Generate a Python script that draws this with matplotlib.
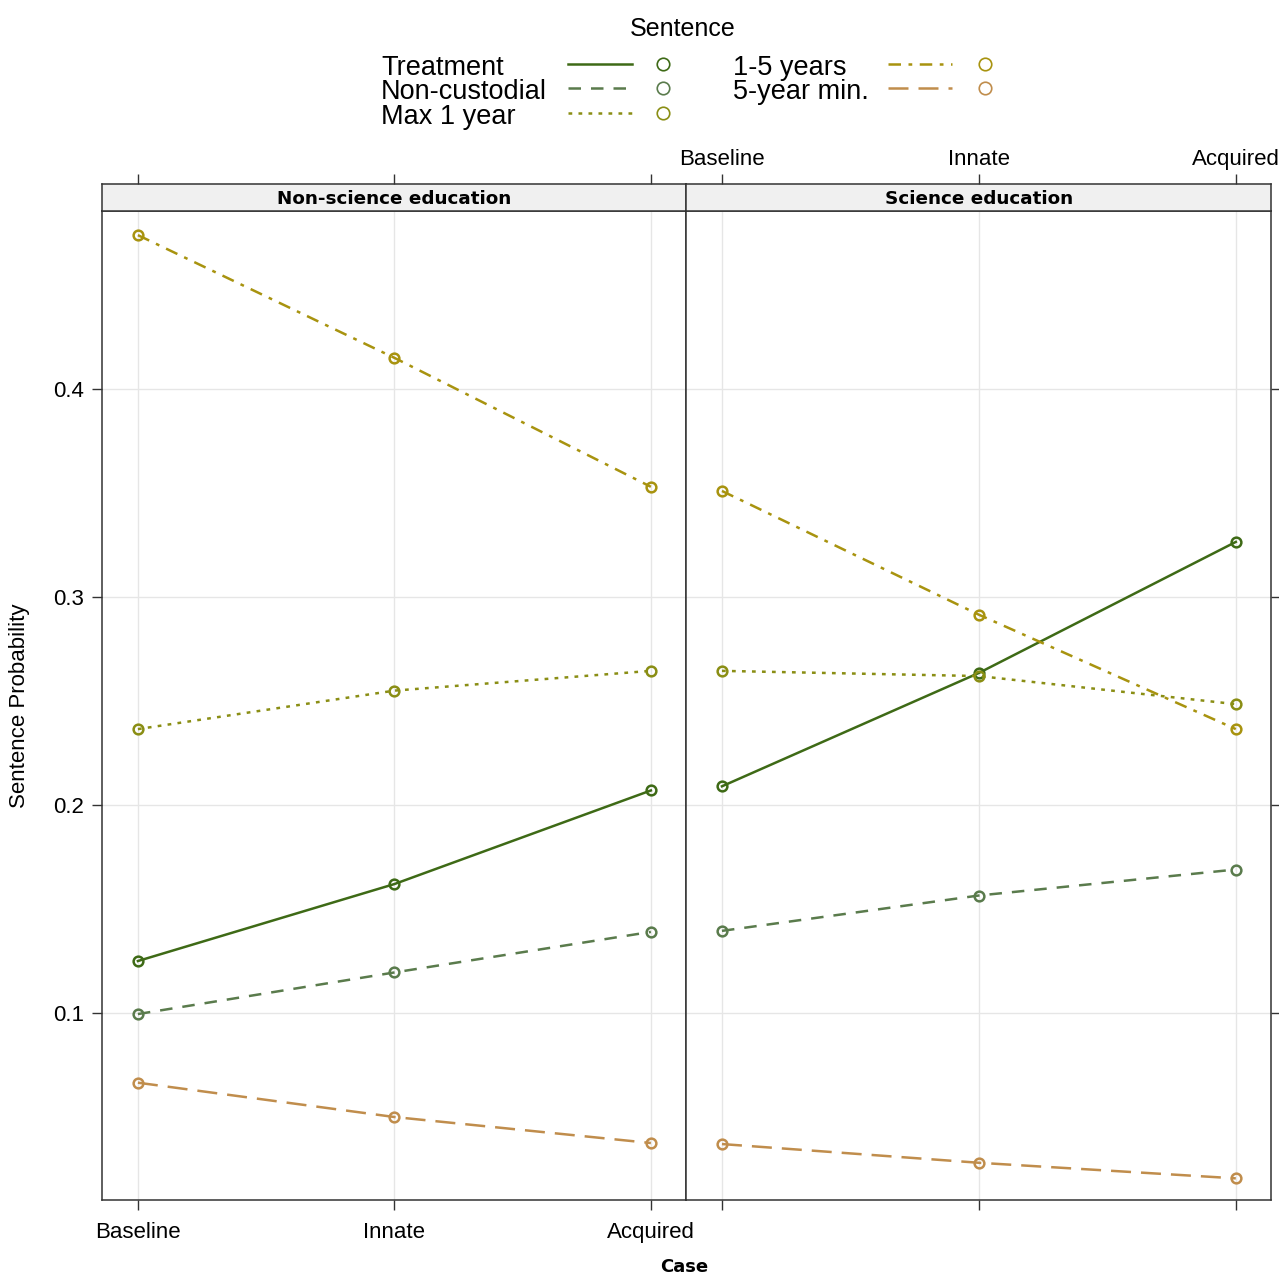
import matplotlib.pyplot as plt
from matplotlib.lines import Line2D

plt.rcParams['font.family'] = ['Liberation Sans', 'DejaVu Sans']

# Data
cases = ['Baseline', 'Innate', 'Acquired']
panels = ['Non-science education', 'Science education']
sentences = ['Treatment', 'Non-custodial', 'Max 1 year', '1-5 years', '5-year min.']

nonsci_treatment = [0.125, 0.162, 0.207]
nonsci_noncustodial = [0.0995, 0.1195, 0.139]
nonsci_max1 = [0.2365, 0.255, 0.2645]
nonsci_1to5 = [0.474, 0.415, 0.353]
nonsci_5min = [0.0665, 0.050, 0.0375]

sci_treatment = [0.209, 0.2635, 0.3265]
sci_noncustodial = [0.1395, 0.1565, 0.169]
sci_max1 = [0.2645, 0.262, 0.2485]
sci_1to5 = [0.351, 0.2915, 0.2365]
sci_5min = [0.037, 0.028, 0.0205]

data = {
    panels[0]: [nonsci_treatment, nonsci_noncustodial, nonsci_max1, nonsci_1to5, nonsci_5min],
    panels[1]: [sci_treatment, sci_noncustodial, sci_max1, sci_1to5, sci_5min],
}

colors = ['#3e6a16', '#5a7b4c', '#8a8e14', '#a8930f', '#c08d4c']
styles = ['-', (0, (5, 4)), (0, (1.5, 2.5)), (0, (5, 3, 1.5, 3)), (0, (8, 4))]

fig = plt.figure(figsize=(12.79, 12.74), dpi=100)
W, H = 1279, 1274

def fx(px):
    return px / W

def fy(py):
    return 1 - py / H

xs = [1, 2, 3]
panel_px = [(102, 686), (686, 1271)]
for i, p in enumerate(panels):
    x0, x1 = panel_px[i]
    ax = fig.add_axes([fx(x0), fy(1200), fx(x1 - x0), fy(211) - fy(1200)])
    st = fig.add_axes([fx(x0), fy(211), fx(x1 - x0), fy(184) - fy(211)])

    for j, vals in enumerate(data[p]):
        ax.plot(xs, vals, color=colors[j], linestyle=styles[j], linewidth=1.8,
                marker='o', markersize=7, markerfacecolor='none',
                markeredgewidth=1.8, zorder=3)

    ax.set_xlim(0.86, 3.137)
    ax.set_ylim(0.0101, 0.4856)
    ax.set_xticks(xs)
    ax.set_yticks([0.1, 0.2, 0.3, 0.4])
    ax.grid(True, color='#e6e6e6', linewidth=1.0, zorder=0)
    for s in ax.spines.values():
        s.set_color('#333333')
        s.set_linewidth(1.1)

    ax.tick_params(axis='both', direction='out', length=7, width=1, color='#333333',
                   labelsize=16)
    ax.tick_params(axis='x', top=False, pad=9)
    if i == 0:
        ax.set_xticklabels(cases)
        ax.tick_params(axis='y', left=True, right=False, labelleft=True, pad=6)
        ax.set_yticklabels(['0.1', '0.2', '0.3', '0.4'])
    else:
        ax.tick_params(axis='x', labelbottom=False)
        ax.tick_params(axis='y', left=False, right=True, labelleft=False)

    # strip on top
    st.set_xlim(ax.get_xlim())
    st.set_ylim(0, 1)
    st.set_facecolor('#f0f0f0')
    st.set_yticks([])
    st.set_xticks(xs)
    st.xaxis.tick_top()
    st.tick_params(axis='x', direction='out', length=7, width=1, color='#333333',
                   labelsize=16, pad=3)
    if i == 1:
        st.set_xticklabels(cases)
    else:
        st.set_xticklabels([])
    for s in st.spines.values():
        s.set_color('#333333')
        s.set_linewidth(1.1)
    st.text(2, 0.45, p, ha='center', va='center', fontsize=13.2, fontweight='bold',
            family='DejaVu Sans')

fig.text(fx(20), fy(706), 'Sentence Probability', rotation=90, ha='center',
         va='center', fontsize=16)
fig.text(fx(684), fy(1267), 'Case', ha='center', va='center', fontsize=13,
         fontweight='bold', family='DejaVu Sans')

# legend
fig.text(fx(683), fy(29), 'Sentence', ha='center', va='center', fontsize=18)
legend_pos = [(381, 66, 568, 632, 663), (381, 90, 568, 632, 663),
              (381, 115, 568, 632, 663), (733, 66, 888, 952, 985),
              (733, 90, 888, 952, 985)]
for j, name in enumerate(sentences):
    tx, ty, l0, l1, cx = legend_pos[j]
    fig.text(fx(tx), fy(ty + 2), name, ha='left', va='center', fontsize=19.5)
    fig.add_artist(Line2D([fx(l0), fx(l1)], [fy(ty - 2), fy(ty - 2)], color=colors[j],
                          linestyle=styles[j], linewidth=1.8, transform=fig.transFigure))
    fig.add_artist(Line2D([fx(cx)], [fy(ty - 2)], color=colors[j], marker='o',
                          markersize=9, markerfacecolor='none', markeredgewidth=1.2,
                          transform=fig.transFigure))

fig.savefig('out.png', dpi=100)
